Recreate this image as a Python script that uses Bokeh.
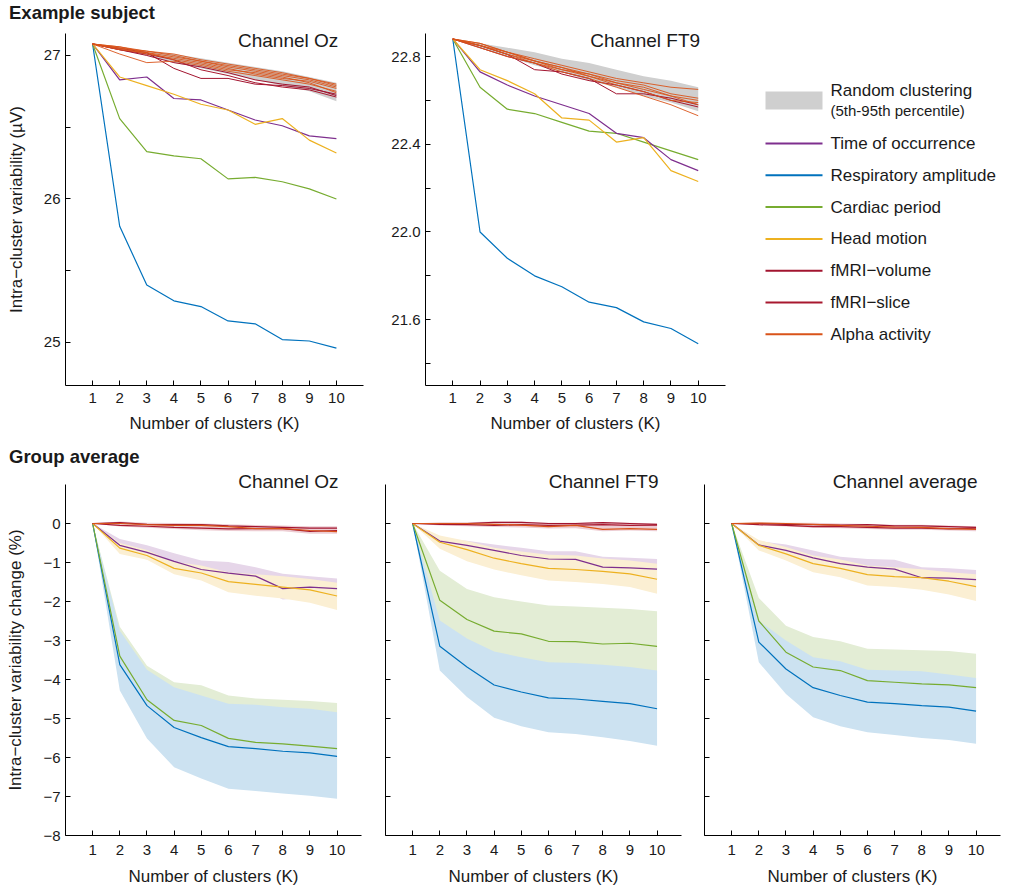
from bokeh.plotting import figure
from bokeh.models import Range1d, FixedTicker, Label, PrintfTickFormatter, Div
from bokeh.layouts import row, column
from bokeh.embed import file_html
from bokeh.resources import INLINE
from bokeh.core.properties import value

FONT = "Liberation Sans"
TXT = "#1a1a1a"

K = [1, 2, 3, 4, 5, 6, 7, 8, 9, 10]

C_TIME = "#7E2F8E"
C_RESP = "#0072BD"
C_CARD = "#77AC30"
C_HEAD = "#EDB120"
C_VOL = "#A2142F"
C_SLICE = "#A8182F"
C_ALPHA = "#D95319"
C_RAND = "#CFCFCF"
B_TIME = "#E6D6E9"
B_RESP = "#CCE2F1"
B_CARD = "#E3EDD5"
B_HEAD = "#FBEFD3"
B_RED = "#EDCDD3"

# ---------------- Example subject, channel Oz (uV) ----------------
oz_rand_hi = [27.08, 27.06, 27.03, 27.01, 26.98, 26.95, 26.92, 26.89, 26.85, 26.81]
oz_rand_lo = [27.08, 27.04, 27.00, 26.95, 26.91, 26.87, 26.83, 26.79, 26.75, 26.68]
oz_time = [27.08, 26.83, 26.85, 26.70, 26.69, 26.62, 26.55, 26.51, 26.44, 26.42]
oz_resp = [27.08, 25.81, 25.40, 25.29, 25.25, 25.15, 25.13, 25.02, 25.01, 24.96]
oz_card = [27.08, 26.56, 26.33, 26.30, 26.28, 26.14, 26.15, 26.12, 26.07, 26.00]
oz_head = [27.08, 26.85, 26.79, 26.73, 26.66, 26.62, 26.52, 26.56, 26.41, 26.32]
oz_vol = [
    [27.08, 27.05, 27.02, 26.91, 26.84, 26.84, 26.80, 26.79, 26.77, 26.73],
    [27.08, 27.04, 27.00, 26.95, 26.92, 26.88, 26.83, 26.80, 26.78, 26.72],
]
oz_slice = [
    [27.08, 27.04, 27.01, 26.97, 26.90, 26.86, 26.81, 26.78, 26.76, 26.71],
]
oz_alpha = [
    [27.08, 27.01, 26.95, 26.96, 26.93, 26.89, 26.86, 26.83, 26.80, 26.75],
    [27.08, 27.05, 27.03, 27.01, 26.97, 26.94, 26.91, 26.88, 26.84, 26.80],
    [27.08, 27.06, 27.02, 26.99, 26.96, 26.92, 26.89, 26.86, 26.83, 26.78],
    [27.08, 27.05, 27.01, 26.98, 26.95, 26.91, 26.87, 26.84, 26.82, 26.77],
    [27.08, 27.04, 27.02, 26.97, 26.94, 26.90, 26.88, 26.85, 26.81, 26.74],
    [27.08, 27.06, 27.03, 27.00, 26.96, 26.93, 26.90, 26.87, 26.84, 26.79],
]

# ---------------- Example subject, channel FT9 (uV) ----------------
ft_rand_hi = [22.88, 22.86, 22.84, 22.82, 22.79, 22.77, 22.74, 22.71, 22.69, 22.66]
ft_rand_lo = [22.88, 22.84, 22.80, 22.76, 22.73, 22.69, 22.66, 22.62, 22.59, 22.55]
ft_time = [22.88, 22.73, 22.67, 22.62, 22.58, 22.54, 22.45, 22.43, 22.33, 22.28]
ft_resp = [22.88, 22.00, 21.88, 21.80, 21.75, 21.68, 21.655, 21.59, 21.56, 21.49]
ft_card = [22.88, 22.66, 22.56, 22.54, 22.50, 22.46, 22.45, 22.41, 22.37, 22.33]
ft_head = [22.88, 22.74, 22.69, 22.63, 22.52, 22.51, 22.41, 22.43, 22.28, 22.23]
ft_vol = [
    [22.88, 22.85, 22.81, 22.74, 22.73, 22.70, 22.63, 22.63, 22.61, 22.58],
]
ft_slice = [
    [22.88, 22.84, 22.80, 22.77, 22.72, 22.69, 22.67, 22.64, 22.60, 22.57],
]
ft_alpha = [
    [22.88, 22.86, 22.82, 22.79, 22.76, 22.73, 22.70, 22.68, 22.66, 22.65],
    [22.88, 22.85, 22.81, 22.78, 22.75, 22.72, 22.69, 22.67, 22.63, 22.61],
    [22.88, 22.86, 22.82, 22.78, 22.75, 22.71, 22.68, 22.65, 22.62, 22.60],
    [22.88, 22.84, 22.80, 22.77, 22.74, 22.71, 22.67, 22.64, 22.60, 22.59],
    [22.88, 22.85, 22.81, 22.77, 22.73, 22.70, 22.66, 22.62, 22.58, 22.53],
    [22.88, 22.85, 22.82, 22.78, 22.74, 22.72, 22.68, 22.66, 22.62, 22.58],
]

# ---------------- Group average (% change) ----------------
g_oz = dict(
    resp=[0, -3.62, -4.67, -5.23, -5.49, -5.72, -5.77, -5.84, -5.88, -5.97],
    resp_hi=[0, -2.75, -3.75, -4.20, -4.41, -4.62, -4.65, -4.71, -4.75, -4.84],
    resp_lo=[0, -4.28, -5.51, -6.25, -6.54, -6.80, -6.86, -6.92, -6.98, -7.06],
    card=[0, -3.40, -4.52, -5.05, -5.18, -5.51, -5.61, -5.65, -5.71, -5.77],
    card_hi=[0, -2.65, -3.65, -4.07, -4.15, -4.41, -4.49, -4.52, -4.55, -4.60],
    card_lo=[0, -4.10, -5.30, -5.90, -6.10, -6.40, -6.50, -6.55, -6.60, -6.70],
    time=[0, -0.56, -0.74, -0.97, -1.18, -1.27, -1.35, -1.67, -1.63, -1.67],
    time_hi=[0, -0.40, -0.56, -0.76, -0.95, -0.99, -1.12, -1.29, -1.35, -1.41],
    time_lo=[0, -0.70, -0.92, -1.18, -1.40, -1.55, -1.60, -1.95, -1.90, -1.93],
    head=[0, -0.63, -0.82, -1.15, -1.27, -1.49, -1.56, -1.63, -1.70, -1.86],
    head_hi=[0, -0.50, -0.68, -0.98, -1.08, -1.25, -1.30, -1.35, -1.42, -1.52],
    head_lo=[0, -0.78, -0.93, -1.30, -1.46, -1.76, -1.85, -1.92, -2.03, -2.22],
    vol=[0, 0.02, -0.02, -0.03, -0.03, -0.06, -0.08, -0.10, -0.12, -0.12],
    slc=[0, -0.05, -0.07, -0.10, -0.12, -0.14, -0.13, -0.13, -0.20, -0.18],
    alpha=[0, 0.00, -0.03, -0.05, -0.05, -0.08, -0.13, -0.13, -0.18, -0.21],
    red_hi=[0, 0.05, 0.02, 0.01, 0.00, -0.02, -0.04, -0.05, -0.07, -0.07],
    red_lo=[0, -0.08, -0.11, -0.14, -0.17, -0.19, -0.20, -0.20, -0.26, -0.26],
)
g_ft = dict(
    resp=[0, -3.15, -3.68, -4.14, -4.32, -4.47, -4.50, -4.56, -4.62, -4.75],
    resp_hi=[0, -2.49, -2.95, -3.28, -3.43, -3.56, -3.58, -3.62, -3.68, -3.77],
    resp_lo=[0, -3.77, -4.45, -4.98, -5.20, -5.35, -5.40, -5.48, -5.58, -5.70],
    card=[0, -1.97, -2.46, -2.76, -2.83, -3.02, -3.03, -3.09, -3.07, -3.15],
    card_hi=[0, -1.21, -1.68, -1.89, -2.00, -2.10, -2.13, -2.16, -2.19, -2.25],
    card_lo=[0, -2.75, -3.25, -3.60, -3.70, -3.90, -3.95, -4.00, -4.00, -4.10],
    time=[0, -0.45, -0.56, -0.69, -0.82, -0.91, -0.92, -1.12, -1.14, -1.17],
    time_hi=[0, -0.38, -0.44, -0.54, -0.62, -0.71, -0.71, -0.85, -0.88, -0.91],
    time_lo=[0, -0.55, -0.70, -0.85, -1.00, -1.10, -1.12, -1.35, -1.38, -1.42],
    head=[0, -0.48, -0.67, -0.89, -1.03, -1.15, -1.18, -1.23, -1.29, -1.43],
    head_hi=[0, -0.31, -0.45, -0.62, -0.72, -0.80, -0.82, -0.90, -0.95, -1.03],
    head_lo=[0, -0.65, -0.97, -1.18, -1.33, -1.46, -1.50, -1.55, -1.63, -1.80],
    vol=[0, 0.00, 0.00, 0.03, 0.03, 0.00, 0.00, 0.02, 0.00, -0.02],
    slc=[0, -0.02, -0.03, -0.05, -0.03, -0.05, -0.04, -0.03, -0.05, -0.04],
    alpha=[0, 0.00, 0.00, -0.02, -0.04, -0.08, -0.05, -0.15, -0.13, -0.15],
    red_hi=[0, 0.03, 0.03, 0.05, 0.05, 0.02, 0.02, 0.04, 0.02, 0.00],
    red_lo=[0, -0.05, -0.07, -0.09, -0.10, -0.13, -0.12, -0.20, -0.18, -0.20],
)
g_avg = dict(
    resp=[0, -3.04, -3.73, -4.21, -4.41, -4.58, -4.62, -4.67, -4.71, -4.81],
    resp_hi=[0, -2.49, -3.00, -3.43, -3.53, -3.75, -3.77, -3.79, -3.87, -3.96],
    resp_lo=[0, -3.56, -4.37, -4.97, -5.20, -5.35, -5.42, -5.50, -5.55, -5.65],
    card=[0, -2.50, -3.30, -3.68, -3.77, -4.03, -4.07, -4.11, -4.14, -4.21],
    card_hi=[0, -1.91, -2.62, -2.91, -3.02, -3.21, -3.23, -3.25, -3.27, -3.34],
    card_lo=[0, -3.10, -3.95, -4.40, -4.50, -4.80, -4.85, -4.90, -4.95, -5.05],
    time=[0, -0.55, -0.69, -0.88, -1.03, -1.12, -1.17, -1.39, -1.40, -1.44],
    time_hi=[0, -0.45, -0.54, -0.69, -0.85, -0.91, -0.93, -1.12, -1.15, -1.19],
    time_lo=[0, -0.65, -0.85, -1.05, -1.20, -1.32, -1.40, -1.62, -1.64, -1.68],
    head=[0, -0.56, -0.78, -1.03, -1.15, -1.31, -1.36, -1.39, -1.48, -1.62],
    head_hi=[0, -0.42, -0.60, -0.82, -0.92, -1.08, -1.12, -1.17, -1.25, -1.30],
    head_lo=[0, -0.69, -0.95, -1.25, -1.38, -1.59, -1.63, -1.70, -1.82, -1.99],
    vol=[0, 0.00, -0.02, -0.03, -0.04, -0.03, -0.06, -0.06, -0.08, -0.10],
    slc=[0, -0.03, -0.05, -0.08, -0.08, -0.10, -0.12, -0.12, -0.14, -0.12],
    alpha=[0, 0.01, 0.00, -0.02, -0.05, -0.07, -0.09, -0.10, -0.13, -0.15],
    red_hi=[0, 0.03, 0.02, 0.02, 0.00, -0.01, -0.03, -0.03, -0.05, -0.07],
    red_lo=[0, -0.05, -0.08, -0.11, -0.12, -0.14, -0.16, -0.16, -0.18, -0.20],
)

oz_yticks = [25, 26, 27]
oz_yminor = [25.5, 26.5]
ft_yticks = [21.6, 22.0, 22.4, 22.8]
ft_yminor = [21.4, 21.8, 22.2, 22.6]
g_yticks = [-8, -7, -6, -5, -4, -3, -2, -1, 0]
g_ylabels = {t: (str(t).replace("-", "\u2212")) for t in g_yticks}

legend_labels = ["Time of occurrence", "Respiratory amplitude", "Cardiac period",
                 "Head motion", "fMRI\u2212volume", "fMRI\u2212slice", "Alpha activity"]
legend_colors = [C_TIME, C_RESP, C_CARD, C_HEAD, C_VOL, C_SLICE, C_ALPHA]

X_LABEL = "Number of clusters (K)"


def make_fig(width, height, bl, br, bt, bb, yr, xend, tick_standoff, label_standoff):
    p = figure(width=width, height=height, x_range=Range1d(0, xend), y_range=Range1d(*yr),
               output_backend="svg", toolbar_location=None,
               min_border_left=bl, min_border_right=br, min_border_top=bt, min_border_bottom=bb)
    p.outline_line_color = None
    p.grid.visible = False
    p.background_fill_color = "white"
    p.border_fill_color = "white"
    for ax in p.axis:
        ax.axis_line_color = "black"
        ax.axis_line_width = 1
        ax.major_tick_in = 5
        ax.major_tick_out = 0
        ax.minor_tick_in = 5
        ax.minor_tick_out = 0
        ax.major_tick_line_color = "black"
        ax.minor_tick_line_color = "black"
        ax.major_label_text_font = FONT
        ax.major_label_text_font_size = "15px"
        ax.major_label_text_color = TXT
        ax.axis_label_text_font = FONT
        ax.axis_label_text_font_size = "17px"
        ax.axis_label_text_font_style = "normal"
        ax.axis_label_text_color = TXT
        ax.major_label_standoff = 5
    p.xaxis.ticker = FixedTicker(ticks=K, minor_ticks=[])
    p.xaxis.major_label_standoff = tick_standoff
    p.xaxis.axis_label = X_LABEL
    p.xaxis.axis_label_standoff = label_standoff
    return p


def inner_title(p, text, y):
    p.add_layout(Label(x=10.07, x_units="data", y=y, y_units="screen", text=text,
                       text_align="right", text_baseline="middle", text_font=FONT,
                       text_font_size="19px", text_color=TXT))


def side_title(p, text):
    p.title.text = text
    p.title.align = "right"
    p.title.offset = 23
    p.title.standoff = -15
    p.title.text_font = FONT
    p.title.text_font_size = "19px"
    p.title.text_font_style = "normal"
    p.title.text_color = TXT


def heading_div(text, h):
    html = ('<div style="margin:0;padding:0 0 0 9px;white-space:nowrap;'
            'font-family:\'Liberation Sans\';font-size:18.5px;font-weight:bold;'
            'line-height:%dpx;color:%s;">%s</div>' % (h, TXT, text))
    return Div(text=html, width=1009, height=h, margin=0)


def draw_top(p, hi, lo, time, resp, card, head, vol, slc, alpha):
    p.varea(x=K, y1=lo, y2=hi, fill_color=C_RAND)
    p.line(K, resp, line_color=C_RESP, line_width=1.2)
    p.line(K, card, line_color=C_CARD, line_width=1.2)
    p.line(K, time, line_color=C_TIME, line_width=1.2)
    p.line(K, head, line_color=C_HEAD, line_width=1.2)
    for s in vol:
        p.line(K, s, line_color=C_VOL, line_width=1.0)
    for s in slc:
        p.line(K, s, line_color=C_SLICE, line_width=1.0)
    for s in alpha:
        p.line(K, s, line_color=C_ALPHA, line_width=1.0, line_alpha=0.9)


def draw_group(p, d):
    p.varea(x=K, y1=d["card_lo"], y2=d["card_hi"], fill_color=B_CARD)
    p.varea(x=K, y1=d["resp_lo"], y2=d["resp_hi"], fill_color=B_RESP)
    p.varea(x=K, y1=d["time_lo"], y2=d["time_hi"], fill_color=B_TIME)
    p.varea(x=K, y1=d["head_lo"], y2=d["head_hi"], fill_color=B_HEAD)
    p.varea(x=K, y1=d["red_lo"], y2=d["red_hi"], fill_color=B_RED)
    p.line(K, d["resp"], line_color=C_RESP, line_width=1.2)
    p.line(K, d["card"], line_color=C_CARD, line_width=1.2)
    p.line(K, d["time"], line_color=C_TIME, line_width=1.2)
    p.line(K, d["head"], line_color=C_HEAD, line_width=1.2)
    p.line(K, d["vol"], line_color=C_VOL, line_width=1.2)
    p.line(K, d["slc"], line_color=C_SLICE, line_width=1.2)
    p.line(K, d["alpha"], line_color=C_ALPHA, line_width=1.2)


# ---------------- Top row (page y 26..447, frames 33..385) ----------------
TOP_H = 421
f1 = make_fig(370, TOP_H, 65, 7, 7, 62, (24.70, 27.153), 11, 7, 8)
f1.yaxis.ticker = FixedTicker(ticks=oz_yticks, minor_ticks=oz_yminor)
f1.yaxis.axis_label = "Intra\u2212cluster variability (\u00b5V)"
f1.yaxis.axis_label_standoff = 15
draw_top(f1, oz_rand_hi, oz_rand_lo, oz_time, oz_resp, oz_card, oz_head, oz_vol, oz_slice, oz_alpha)
inner_title(f1, "Channel Oz", 345.5)

f2 = make_fig(365, TOP_H, 55, 10, 7, 62, (21.30, 22.905), 11, 7, 8)
f2.yaxis.ticker = FixedTicker(ticks=ft_yticks, minor_ticks=ft_yminor)
f2.yaxis.formatter = PrintfTickFormatter(format="%.1f")
draw_top(f2, ft_rand_hi, ft_rand_lo, ft_time, ft_resp, ft_card, ft_head, ft_vol, ft_slice, ft_alpha)
inner_title(f2, "Channel FT9", 345.5)

# legend panel: its frame is aligned with the row's frames (page y 33..385),
# so data coordinates are page pixels
LX_A, LX_B = 735, 1009
leg = figure(width=LX_B - LX_A, height=TOP_H, x_range=Range1d(LX_A, LX_B), y_range=Range1d(385, 33),
             output_backend="svg", toolbar_location=None, x_axis_type=None, y_axis_type=None,
             min_border=0)
leg.outline_line_color = None
leg.grid.visible = False
SW0, SW1, STX = 765, 822, 830
leg.quad(left=SW0, right=SW1, top=91, bottom=109, fill_color=C_RAND, line_color=None)
leg.text(x=[STX], y=[90], text=["Random clustering"], text_baseline="middle",
         text_font=value(FONT), text_font_size="17px", text_color=TXT)
leg.text(x=[STX], y=[110], text=["(5th-95th percentile)"], text_baseline="middle",
         text_font=value(FONT), text_font_size="15px", text_color=TXT)
ys = [143 + i * 31.8 for i in range(len(legend_labels))]
leg.segment(x0=[SW0] * len(ys), x1=[SW1] * len(ys), y0=ys, y1=ys,
            line_color=legend_colors, line_width=2)
leg.text(x=[STX] * len(ys), y=ys, text=legend_labels, text_baseline="middle",
         text_font=value(FONT), text_font_size="17px", text_color=TXT)

# ---------------- Bottom row (page y 467..889, frames 484..835) ----------------
BOT_H = 422
YR = (-8, 1)
g1 = make_fig(373, BOT_H, 65, 12, 17, 54, YR, 10.9, 9, 9)
g2 = make_fig(319, BOT_H, 12, 11, 17, 54, YR, 10.9, 9, 9)
g3 = make_fig(317, BOT_H, 12, 9, 17, 54, YR, 10.9, 9, 9)
for g, d, t in ((g1, g_oz, "Channel Oz"), (g2, g_ft, "Channel FT9"), (g3, g_avg, "Channel average")):
    g.yaxis.ticker = FixedTicker(ticks=g_yticks, minor_ticks=[])
    draw_group(g, d)
    side_title(g, t)
g1.yaxis.major_label_overrides = g_ylabels
g1.yaxis.axis_label = "Intra\u2212cluster variability change (%)"
g1.yaxis.axis_label_standoff = 15
for g in (g2, g3):
    g.yaxis.major_label_overrides = {t: "" for t in g_yticks}
    g.yaxis.major_label_standoff = 0

layout = column(heading_div("Example subject", 26), row(f1, f2, leg),
                heading_div("Group average", 20), row(g1, g2, g3))
open("out.html", "w").write(file_html(layout, INLINE))
